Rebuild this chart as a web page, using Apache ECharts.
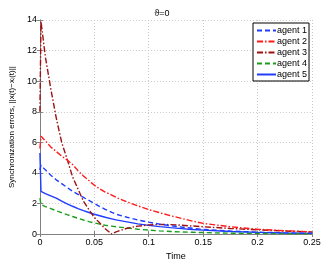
<!DOCTYPE html>
<html>
<head>
<meta charset="utf-8">
<script src="https://cdn.jsdelivr.net/npm/echarts@6/dist/echarts.min.js"></script>
<style>html,body{margin:0;padding:0;background:#fff}#c{width:324px;height:266px}</style>
</head>
<body>
<div id="c"></div>
<script>
var time = [0, 0.001, 0.005, 0.01, 0.015, 0.02, 0.025, 0.03, 0.035, 0.04, 0.045, 0.05, 0.055, 0.06, 0.066, 0.07, 0.08, 0.09, 0.1, 0.11, 0.12, 0.13, 0.14, 0.15, 0.175, 0.2, 0.225, 0.25];
var agent1 = [4.2, 4.5, 4.2, 3.85, 3.55, 3.3, 3.05, 2.8, 2.6, 2.4, 2.2, 2.0, 1.8, 1.62, 1.42, 1.3, 1.1, 0.92, 0.78, 0.65, 0.55, 0.46, 0.38, 0.31, 0.2, 0.125, 0.08, 0.05];
var agent2 = [5.6, 6.4, 6.1, 5.7, 5.4, 5.1, 4.85, 4.55, 4.15, 3.8, 3.5, 3.2, 2.95, 2.75, 2.55, 2.4, 2.1, 1.85, 1.6, 1.4, 1.2, 1.03, 0.85, 0.7, 0.48, 0.32, 0.22, 0.15];
var agent3 = [8.0, 13.9, 11.6, 9.5, 7.6, 6.0, 4.9, 3.75, 2.95, 2.15, 1.6, 1.09, 0.72, 0.35, 0.0, 0.15, 0.38, 0.52, 0.6, 0.63, 0.62, 0.58, 0.53, 0.48, 0.37, 0.28, 0.2, 0.14];
var agent4 = [2.35, 1.93, 1.8, 1.67, 1.53, 1.4, 1.27, 1.15, 1.03, 0.92, 0.82, 0.73, 0.65, 0.58, 0.52, 0.48, 0.4, 0.32, 0.26, 0.21, 0.17, 0.14, 0.12, 0.1, 0.06, 0.04, 0.03, 0.02];
var agent5 = [5.3, 2.8, 2.65, 2.5, 2.35, 2.15, 1.98, 1.82, 1.67, 1.53, 1.41, 1.3, 1.2, 1.1, 1.0, 0.93, 0.8, 0.67, 0.57, 0.49, 0.42, 0.36, 0.3, 0.26, 0.17, 0.115, 0.075, 0.05];
var names = ['agent 1', 'agent 2', 'agent 3', 'agent 4', 'agent 5'];
var xTicks = [0, 0.05, 0.1, 0.15, 0.2, 0.25];
var yTicks = [0, 2, 4, 6, 8, 10, 12, 14];

var values = [agent1, agent2, agent3, agent4, agent5];
var colors = ['#1f3cff', '#ff1a1a', '#a01010', '#1a9e1a', '#1f3cff'];
var dashes = [[5, 3], [6, 2, 1.5, 2], [6, 2, 1.5, 2], [5, 3], 'solid'];
var font = 'Liberation Sans, Arial, sans-serif';

function pairs(v) { return time.map(function (t, i) { return [t, v[i]]; }); }

var chart = echarts.init(document.getElementById('c'), null, {renderer: 'canvas'});
var axisColor = '#808080';
var option = {
  animation: false,
  backgroundColor: '#fff',
  title: {
    text: '\u03D1=0', left: 'center', top: 4,
    textStyle: {fontSize: 9, fontWeight: 'normal', color: '#000', fontFamily: font}
  },
  grid: {left: 30, right: 12, top: 20, bottom: 24, containLabel: false},
  legend: {
    orient: 'vertical', left: 253, top: 23,
    data: names,
    backgroundColor: '#fff', borderColor: '#000', borderWidth: 1, borderRadius: 0,
    padding: [3, 2, 2, 3], itemGap: 2, itemWidth: 19, itemHeight: 8,
    itemStyle: {opacity: 0},
    textStyle: {fontSize: 9, color: '#000', fontFamily: font, padding: [0, 0, 0, -4]}
  },
  xAxis: [{
    type: 'value', min: xTicks[0], max: xTicks[xTicks.length - 1], interval: 0.05,
    name: 'Time', nameLocation: 'middle', nameGap: 15,
    nameTextStyle: {fontSize: 9, color: '#000', fontFamily: font},
    axisLine: {show: true, lineStyle: {color: axisColor}},
    axisTick: {show: true, inside: true, length: 3, lineStyle: {color: axisColor}},
    axisLabel: {fontSize: 9, color: '#000', fontFamily: font, margin: 4,
      formatter: function (v) { return String(+v.toFixed(2)); }},
    splitLine: {show: true, lineStyle: {color: '#c8c8c8', type: [1, 2]}}
  }, {
    type: 'value', position: 'top', min: 0, max: 0.25, interval: 0.05,
    axisLine: {show: true, lineStyle: {color: axisColor}},
    axisTick: {show: true, inside: true, length: 3, lineStyle: {color: axisColor}},
    axisLabel: {show: false}, splitLine: {show: false}
  }],
  yAxis: [{
    type: 'value', min: yTicks[0], max: yTicks[yTicks.length - 1], interval: 2,
    name: 'Synchronization errors, ||x(t)\u2212x\u1D62(t)||', nameLocation: 'middle', nameGap: 17,
    nameTextStyle: {fontSize: 8, color: '#000', fontFamily: font},
    axisLine: {show: true, lineStyle: {color: axisColor}},
    axisTick: {show: true, inside: true, length: 3, lineStyle: {color: axisColor}},
    axisLabel: {fontSize: 9, color: '#000', fontFamily: font, margin: 3},
    splitLine: {show: true, lineStyle: {color: '#c8c8c8', type: [1, 2]}}
  }, {
    type: 'value', position: 'right', min: 0, max: 14, interval: 2,
    axisLine: {show: true, lineStyle: {color: axisColor}},
    axisTick: {show: true, inside: true, length: 3, lineStyle: {color: axisColor}},
    axisLabel: {show: false}, splitLine: {show: false}
  }],
  series: names.map(function (n, i) {
    return {
      name: n, type: 'line', data: pairs(values[i]),
      xAxisIndex: 0, yAxisIndex: 0,
      symbol: 'none', showSymbol: false, smooth: false,
      z: 10 - i,
      itemStyle: {color: colors[i]},
      lineStyle: {color: colors[i], width: 1.4, type: dashes[i]}
    };
  })
};
chart.setOption(option);
</script>
</body>
</html>
